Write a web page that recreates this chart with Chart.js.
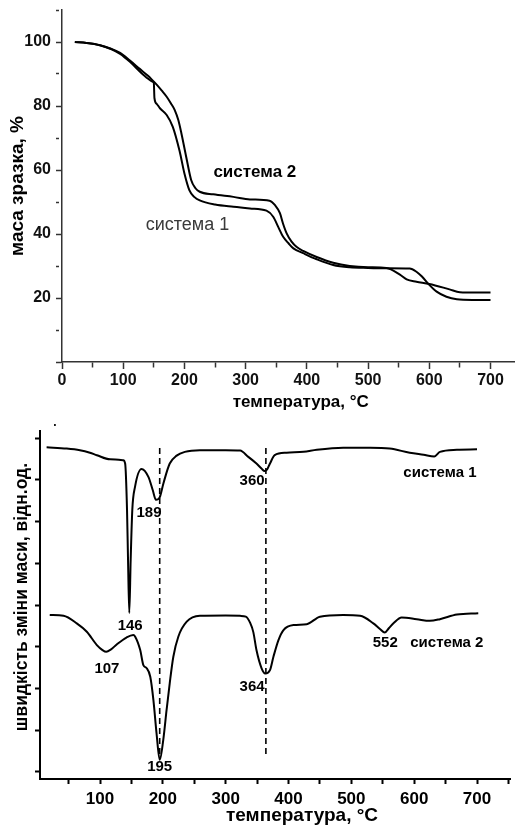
<!DOCTYPE html>
<html>
<head>
<meta charset="utf-8">
<script src="https://cdn.jsdelivr.net/npm/chart.js@4"></script>
<style>
html,body{margin:0;padding:0;background:#fff;width:515px;height:825px;overflow:hidden;}
canvas{position:absolute;left:0;}
#c1{top:0;}
#c2{top:412px;}
</style>
</head>
<body>
<canvas id="c1" width="515" height="412"></canvas>
<canvas id="c2" width="515" height="413"></canvas>
<script>
// ---------- DATA: TG curves (top chart) ----------
const tgTemp1 = [21, 40, 62, 80, 95, 111, 127, 140, 148, 150, 151, 155, 160, 171, 181, 192, 200, 208, 216, 225, 250, 280, 307, 334, 345, 353, 361, 370, 378, 394, 416, 443, 470, 500, 530, 568, 579, 588, 600, 612, 628, 645, 670, 700];
const tgMass1 = [100, 99.7, 99, 97.8, 96.3, 93.8, 90.8, 88.6, 87.6, 87.2, 82.5, 80.6, 79.3, 77.2, 73.5, 66, 58.9, 53.7, 51.6, 50.5, 49.2, 48.5, 48, 47.3, 45.4, 42.3, 39.2, 37.1, 35.5, 34, 32.1, 30.3, 29.6, 29.4, 29.3, 29.2, 28.2, 26.7, 24.1, 22, 20.4, 19.6, 19.4, 19.4];
const tgTemp2 = [21, 40, 62, 80, 95, 111, 127, 140, 146, 155, 163, 171, 178, 184, 190, 195, 203, 211, 218, 225, 247, 280, 307, 339, 348, 356, 361, 367, 375, 383, 394, 416, 443, 470, 500, 530, 552, 563, 579, 600, 633, 650, 675, 700];
const tgMass2 = [100, 99.7, 99, 97.9, 96.6, 94.2, 91.6, 89.5, 88.4, 86.6, 84.8, 82.9, 80.8, 78.8, 75.6, 71.5, 64, 56.9, 54.3, 53.2, 52.4, 51.6, 50.8, 50.4, 49, 46.5, 43.3, 40.2, 37.6, 36, 34.7, 32.8, 31, 30, 29.6, 29.4, 27.3, 25.8, 25.1, 24.4, 22.7, 21.8, 21.7, 21.7];

// ---------- DATA: DTG curves (bottom chart) ----------
const dtgTemp1 = [15, 47, 68, 84, 95, 116, 137, 140, 143, 144.6, 146.6, 148.8, 151.4, 155.7, 166, 177, 184, 189, 195, 201, 211, 222, 235, 259, 300, 323, 336, 349, 357, 362, 366, 370.5, 378, 397, 424, 445, 487, 530, 561, 593, 615, 632, 641, 668, 700];
const dtgRate1 = [7.78, 7.75, 7.71, 7.65, 7.59, 7.49, 7.47, 7.39, 6.28, 5.08, 3.81, 5.08, 6.28, 6.83, 7.26, 7.07, 6.75, 6.52, 6.58, 6.92, 7.39, 7.58, 7.67, 7.71, 7.71, 7.7, 7.55, 7.39, 7.27, 7.21, 7.25, 7.39, 7.59, 7.65, 7.67, 7.72, 7.77, 7.77, 7.75, 7.65, 7.6, 7.56, 7.67, 7.72, 7.73];
const dtgTemp2 = [20, 42, 63, 79, 95, 104, 110, 117, 127, 142, 153, 156, 164, 169, 174, 180, 185, 190, 195, 200.7, 206, 211, 216.7, 224.6, 238, 259, 300, 323, 332, 339, 344, 349, 357, 363, 370.5, 376, 384, 392, 408, 429, 450, 487, 514, 535, 546, 553, 560, 567, 580, 604, 625, 641, 668, 702];
const dtgRate2 = [3.76, 3.74, 3.56, 3.36, 3.04, 2.92, 2.88, 2.93, 3.06, 3.22, 3.28, 3.24, 2.92, 2.56, 2.49, 2.28, 1.72, 0.92, 0.29, 0.77, 1.49, 2.13, 2.76, 3.24, 3.6, 3.74, 3.75, 3.74, 3.72, 3.57, 3.35, 2.92, 2.49, 2.36, 2.44, 2.76, 3.16, 3.4, 3.52, 3.54, 3.72, 3.76, 3.74, 3.56, 3.42, 3.34, 3.45, 3.56, 3.7, 3.66, 3.62, 3.66, 3.77, 3.8];

// dashed marker lines at the main peaks of system 2
const markTemps = [195, 364];
const markTop = [7.76, 7.76];
const markBottom = [0.34, 0.41];

// tick positions and labels
const tgXTicks = [0, 50, 100, 150, 200, 250, 300, 350, 400, 450, 500, 550, 600, 650, 700];
const tgXLabels = [0, 100, 200, 300, 400, 500, 600, 700];
const tgYTicks = [0, 10, 20, 30, 40, 50, 60, 70, 80, 90, 100, 110];
const tgYLabels = [20, 40, 60, 80, 100];
const dtgXTicks = [50, 100, 150, 200, 250, 300, 350, 400, 450, 500, 550, 600, 650, 700, 750];
const dtgXLabels = [100, 200, 300, 400, 500, 600, 700];
const dtgYTicks = [0, 1, 2, 3, 4, 5, 6, 7, 8];

// ---------- helpers ----------
const FONT = "'Liberation Sans', Arial, Helvetica, sans-serif";
const pts = (xs, ys) => xs.map((x, i) => ({x: x, y: ys[i]}));
const setTicks = vals => a => { a.ticks = vals.map(v => ({value: v})); };

function textPlugin(items) {
  return {
    id: 'texts',
    afterDraw(chart) {
      const ctx = chart.ctx, xs = chart.scales.x, ys = chart.scales.y;
      items.forEach(it => {
        ctx.save();
        ctx.font = it.font;
        ctx.fillStyle = it.color || '#000';
        ctx.textAlign = 'center';
        ctx.textBaseline = 'middle';
        ctx.translate(xs.getPixelForValue(it.x), ys.getPixelForValue(it.y));
        if (it.rot) ctx.rotate(it.rot);
        ctx.fillText(it.text, 0, 0);
        ctx.restore();
      });
    }
  };
}
function fixW(w) { return s => { s.width = w; s.paddingTop = 0; s.paddingBottom = 0; s.paddingLeft = 0; s.paddingRight = 0; }; }
function fixH(h) { return s => { s.height = h; s.paddingTop = 0; s.paddingBottom = 0; s.paddingLeft = 0; s.paddingRight = 0; }; }
const lineDS = (data, w) => ({data: data, borderColor: '#000', borderWidth: w, pointRadius: 0, fill: false, cubicInterpolationMode: 'monotone'});

Chart.defaults.font.family = FONT;
Chart.defaults.color = '#000';

// ---------- TOP CHART (TG) ----------
new Chart(document.getElementById('c1'), {
  type: 'line',
  data: {datasets: [lineDS(pts(tgTemp1, tgMass1), 2), lineDS(pts(tgTemp2, tgMass2), 2)]},
  options: {
    responsive: false, animation: false, devicePixelRatio: 1,
    layout: {padding: {top: 10, right: 0, bottom: 0, left: 0}},
    plugins: {legend: {display: false}, tooltip: {enabled: false}},
    scales: {
      x: {
        type: 'linear', min: 0, max: 740,
        afterFit: fixH(50),
        afterBuildTicks: setTicks(tgXTicks),
        border: {display: true, color: '#333', width: 1.5},
        grid: {drawOnChartArea: false, drawTicks: true, tickLength: 7, tickColor: '#333', tickWidth: 1.5,
               tickBorderDash: c => (c.tick && c.tick.value % 100 !== 0) ? [5, 60] : []},
        ticks: {autoSkip: false, maxRotation: 0, padding: 2,
                font: {size: 16, weight: 'bold'}, color: '#111',
                callback: v => tgXLabels.includes(v) ? String(v) : ''}
      },
      y: {
        type: 'linear', min: 0, max: 110,
        afterFit: fixW(62),
        afterBuildTicks: setTicks(tgYTicks),
        border: {display: true, color: '#333', width: 1.5},
        grid: {drawOnChartArea: false, drawTicks: true, tickLength: 6, tickColor: '#333', tickWidth: 1.5,
               tickBorderDash: c => (c.tick && c.tick.value % 20 !== 0) ? [3, 60] : []},
        ticks: {autoSkip: false, padding: 5,
                font: {size: 16, weight: 'bold'}, color: '#111',
                callback: v => tgYLabels.includes(v) ? String(v) : ''}
      }
    }
  },
  plugins: [textPlugin([
    {text: 'система 2', x: 315, y: 59.4, font: 'bold 17px ' + FONT},
    {text: 'система 1', x: 205, y: 42.8, font: '18px ' + FONT, color: '#3a3a3a'},
    {text: 'температура, °C', x: 390, y: -12.5, font: 'bold 17px ' + FONT},
    {text: 'маса зразка, %', x: -71.9, y: 55, font: 'bold 19px ' + FONT, rot: -Math.PI / 2}
  ])]
});

// ---------- BOTTOM CHART (DTG) ----------
const markDS = markTemps.map((t, i) => ({
  data: [{x: t, y: markTop[i]}, {x: t, y: markBottom[i]}],
  borderColor: '#000', borderWidth: 1.6, borderDash: [6, 4], pointRadius: 0, fill: false
}));

new Chart(document.getElementById('c2'), {
  type: 'line',
  data: {datasets: [lineDS(pts(dtgTemp1, dtgRate1), 2), lineDS(pts(dtgTemp2, dtgRate2), 2)].concat(markDS)},
  options: {
    responsive: false, animation: false, devicePixelRatio: 1,
    layout: {padding: {top: 19, right: 5, bottom: 0, left: 0}},
    plugins: {legend: {display: false}, tooltip: {enabled: false}},
    scales: {
      x: {
        type: 'linear', min: 4.5, max: 752.5,
        afterFit: fixH(46),
        afterBuildTicks: setTicks(dtgXTicks),
        border: {display: true, color: '#000', width: 2},
        grid: {drawOnChartArea: false, drawTicks: true, tickLength: 5, tickColor: '#000', tickWidth: 2},
        ticks: {autoSkip: false, maxRotation: 0, padding: 5,
                font: {size: 17, weight: 'bold'}, color: '#000',
                callback: v => dtgXLabels.includes(v) ? String(v) : ''}
      },
      y: {
        type: 'linear', min: -0.17, max: 8.17,
        afterFit: fixW(40),
        afterBuildTicks: setTicks(dtgYTicks),
        border: {display: true, color: '#000', width: 2},
        grid: {drawOnChartArea: false, drawTicks: true, tickLength: 5, tickColor: '#000', tickWidth: 2},
        ticks: {autoSkip: false, padding: 2, callback: () => ''}
      }
    }
  },
  plugins: [textPlugin([
    {text: '189', x: 178, y: 6.2, font: 'bold 15px ' + FONT},
    {text: '360', x: 342, y: 6.97, font: 'bold 15px ' + FONT},
    {text: 'система 1', x: 641, y: 7.16, font: 'bold 15px ' + FONT},
    {text: '146', x: 148, y: 3.5, font: 'bold 15px ' + FONT},
    {text: '107', x: 111, y: 2.47, font: 'bold 15px ' + FONT},
    {text: '195', x: 195, y: 0.12, font: 'bold 15px ' + FONT},
    {text: '364', x: 342, y: 2.04, font: 'bold 15px ' + FONT},
    {text: '552', x: 554, y: 3.09, font: 'bold 15px ' + FONT},
    {text: 'система 2', x: 652, y: 3.09, font: 'bold 15px ' + FONT},
    {text: '.', x: 28.4, y: 8.36, font: 'bold 12px ' + FONT},
    {text: 'температура, °C', x: 421.5, y: -1.05, font: 'bold 19px ' + FONT},
    {text: 'швидкість зміни маси, відн.од.', x: -24.2, y: 4.19, font: 'bold 17.5px ' + FONT, rot: -Math.PI / 2}
  ])]
});
</script>
</body>
</html>
